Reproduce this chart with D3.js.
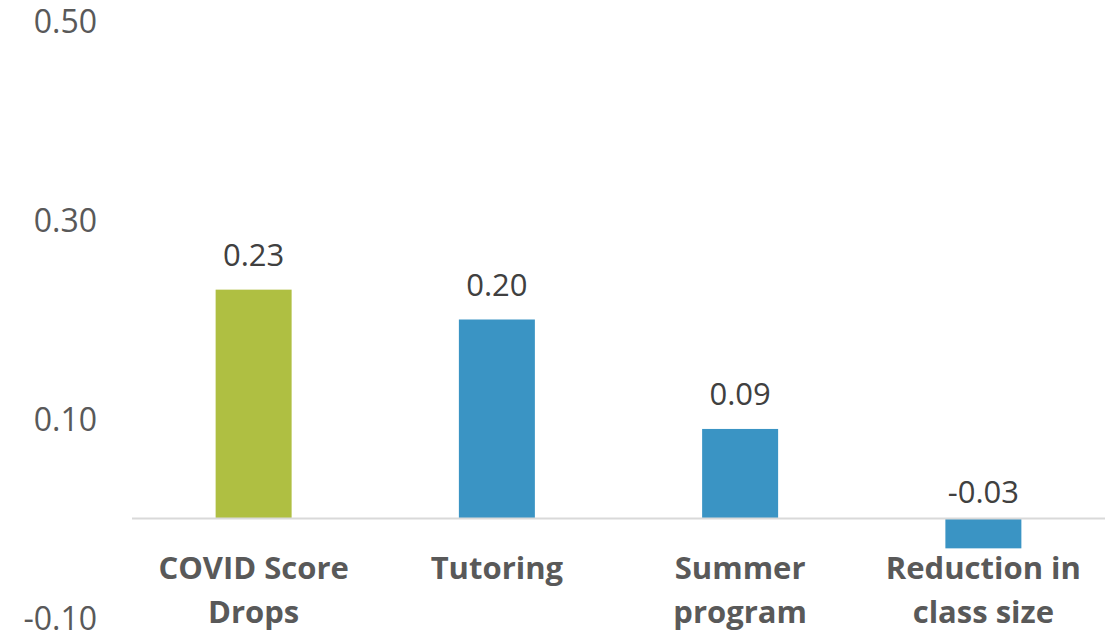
<!DOCTYPE html>
<html>
<head>
<meta charset="utf-8">
<script src="https://cdn.jsdelivr.net/npm/d3@7"></script>
<style>
  body { margin: 0; background: #fff; }
  text { font-family: "Open Sans", sans-serif; }
</style>
</head>
<body>
<script>
// chart data
var categories = [["COVID Score", "Drops"], ["Tutoring"], ["Summer", "program"], ["Reduction in", "class size"]];
var values = [0.23, 0.20, 0.09, -0.03];
var barColors = ["#afbf42", "#3a94c4", "#3a94c4", "#3a94c4"];
var yTicks = [0.5, 0.3, 0.1, -0.1];

var w = 1112, h = 639;

// plain hyphen for negatives, like the original
var fmt = function(d) { return d3.format(".2f")(d).replace("\u2212", "-"); };

var svg = d3.select("body").append("svg")
  .attr("width", w)
  .attr("height", h);

// y scale: 0.5 at top label, -0.1 at bottom label
var yScale = d3.scaleLinear()
  .domain([-0.1, 0.5])
  .range([618, 21]);

// x band scale
var xScale = d3.scaleBand()
  .domain(d3.range(values.length))
  .range([132, 1105])
  .paddingInner(0.6876)
  .paddingOuter(0.3438);

// y axis tick labels (no line, no ticks)
var yAxis = d3.axisLeft(yScale)
  .tickValues(yTicks)
  .tickFormat(fmt)
  .tickSize(0)
  .tickPadding(0);

var gy = svg.append("g")
  .attr("transform", "translate(97,0)")
  .call(yAxis);
gy.select(".domain").remove();
gy.selectAll("text")
  .attr("font-family", "Open Sans, sans-serif")
  .attr("font-size", 32)
  .attr("fill", "#595959")
  .attr("dy", "0.35em");

// bars
svg.selectAll("rect.bar")
  .data(values)
  .enter()
  .append("rect")
  .attr("class", "bar")
  .attr("x", function(d, i) { return xScale(i); })
  .attr("y", function(d) { return yScale(Math.max(d, 0)); })
  .attr("width", xScale.bandwidth())
  .attr("height", function(d) { return Math.abs(yScale(d) - yScale(0)); })
  .attr("fill", function(d, i) { return barColors[i]; });

// zero line
svg.append("line")
  .attr("x1", 132)
  .attr("x2", 1105)
  .attr("y1", yScale(0))
  .attr("y2", yScale(0))
  .attr("stroke", "#d9d9d9")
  .attr("stroke-width", 2);

// value labels
svg.selectAll("text.val")
  .data(values)
  .enter()
  .append("text")
  .attr("class", "val")
  .attr("x", function(d, i) { return xScale(i) + xScale.bandwidth() / 2; })
  .attr("y", function(d) { return yScale(Math.max(d, 0)) - (d >= 0 ? 24 : 16); })
  .attr("text-anchor", "middle")
  .attr("font-size", 31)
  .attr("fill", "#404040")
  .text(fmt);

// category labels
var cat = svg.selectAll("text.cat")
  .data(categories)
  .enter()
  .append("text")
  .attr("class", "cat")
  .attr("text-anchor", "middle")
  .attr("font-size", 31)
  .attr("font-weight", "bold")
  .attr("fill", "#595959");

cat.selectAll("tspan")
  .data(function(d, i) { return d.map(function(t) { return { t: t, i: i }; }); })
  .enter()
  .append("tspan")
  .attr("x", function(d) { return xScale(d.i) + xScale.bandwidth() / 2; })
  .attr("y", function(d, j) { return 579 + j * 44; })
  .text(function(d) { return d.t; });
</script>
</body>
</html>
